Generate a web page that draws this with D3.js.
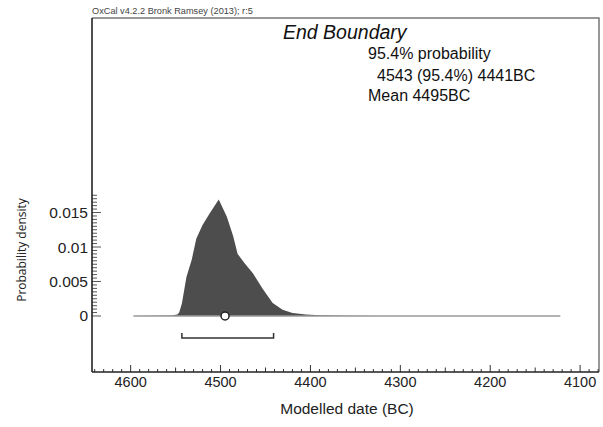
<!DOCTYPE html>
<html><head><meta charset="utf-8">
<script src="https://cdn.jsdelivr.net/npm/d3@7"></script>
<style>body{margin:0;background:#fff}svg{display:block}</style>
</head><body><svg id="c" width="603" height="427"></svg>
<script>
// ---- data ----
const years = [4597,4575,4555,4548,4546,4543,4538,4532,4527,4520,4512,4502,4493,4486,4481,4473,4464,4453,4442,4431,4420,4405,4390,4360,4320,4122];
const density = [0,0.00003,0.00008,0.0002,0.0005,0.0018,0.0056,0.0082,0.0112,0.0132,0.0149,0.0169,0.0144,0.0116,0.0090,0.0076,0.0062,0.0039,0.0019,0.0009,0.00045,0.0002,0.0001,0.00004,0.00001,0];
const range95 = [4543, 4441];
const meanYear = 4495;
const xTicks = [4600,4500,4400,4300,4200,4100];
const yTicks = [0,0.005,0.01,0.015];
const yTickLabels = ["0","0.005","0.01","0.015"];
const header = "OxCal v4.2.2 Bronk Ramsey (2013); r:5";
const title = "End Boundary";
const infoLines = ["95.4% probability","4543 (95.4%) 4441BC","Mean 4495BC"];
const xTitle = "Modelled date (BC)";
const yTitle = "Probability density";

// ---- drawing ----
const svg = d3.select("#c");
const x = d3.scaleLinear().domain([4643, 4079]).range([92, 599]);
const y = d3.scaleLinear().domain([-0.00812, 0.0432]).range([372, 18]);
const font = "'Liberation Sans', Arial, sans-serif";

// density area
const pts = years.map((yr,i)=>({yr, d:density[i]}));
svg.append("path").datum(pts)
  .attr("d", d3.area().x(p=>x(p.yr)).y0(y(0)).y1(p=>y(p.d)))
  .attr("fill","#4d4d4d");
// baseline
svg.append("line").attr("x1",x(years[0])).attr("x2",x(years[years.length-1]))
  .attr("y1",y(0)).attr("y2",y(0)).attr("stroke","#9a9a9a").attr("stroke-width",1.6);

// frame top/right
svg.append("path").attr("d",`M${x.range()[0]},${y.range()[1]}H${x.range()[1]}V${y.range()[0]}`)
  .attr("fill","none").attr("stroke","#777").attr("stroke-width",1.5);

// x axis with inward ticks
const xMinor = d3.range(4640, 4079, -10);
const gx = svg.append("g").attr("transform",`translate(0,${y.range()[0]})`);
gx.selectAll("line.mn").data(xMinor).join("line")
  .attr("x1",d=>x(d)).attr("x2",d=>x(d)).attr("y1",0)
  .attr("y2",d=> d%100===0 ? -7 : (d%50===0 ? -4.5 : -3))
  .attr("stroke","#333").attr("stroke-width",1);
gx.append("line").attr("x1",x.range()[0]).attr("x2",x.range()[1]).attr("stroke","#222").attr("stroke-width",1.6);
gx.selectAll("text").data(xTicks).join("text")
  .attr("x",d=>x(d)).attr("y",15).attr("text-anchor","middle")
  .attr("font-family",font).attr("font-size",14.5).attr("fill","#222").text(d=>d);

// y axis
const yMinor = d3.range(0, 0.01751, 0.0005);
const gy = svg.append("g").attr("transform",`translate(${x.range()[0]},0)`);
gy.selectAll("line.mn").data(yMinor).join("line")
  .attr("x1",0).attr("x2",(d,i)=> i%10===0 ? 9 : 5)
  .attr("y1",d=>y(d)).attr("y2",d=>y(d))
  .attr("stroke","#444").attr("stroke-width",0.9);
gy.append("line").attr("y1",y.range()[0]).attr("y2",y.range()[1]).attr("stroke","#222").attr("stroke-width",1.6);
gy.selectAll("text").data(yTicks).join("text")
  .attr("x",-4).attr("y",d=>y(d)+5.5).attr("text-anchor","end")
  .attr("font-family",font).attr("font-size",15.5).attr("fill","#222")
  .text((d,i)=>yTickLabels[i]);

// 95.4% range bracket
const by = y(0)+22;
svg.append("path")
  .attr("d",`M${x(range95[0])},${by-5}V${by}H${x(range95[1])}V${by-5}`)
  .attr("fill","none").attr("stroke","#333").attr("stroke-width",1.5);

// mean marker
svg.append("circle").attr("cx",x(meanYear)).attr("cy",y(0)).attr("r",4)
  .attr("fill","#fff").attr("stroke","#222").attr("stroke-width",1.5);

// texts
svg.append("text").attr("x",92).attr("y",14).attr("font-family",font)
  .attr("font-size",9.2).attr("fill","#444").text(header);
svg.append("text").attr("x",283).attr("y",39).attr("font-family",font)
  .attr("font-style","italic").attr("font-size",19.5).attr("fill","#111").text(title);
const infoX = [368, 377, 368], infoY = [59, 81, 101];
infoLines.forEach((t,i)=>svg.append("text").attr("x",infoX[i]).attr("y",infoY[i])
  .attr("font-family",font).attr("font-size",16).attr("fill","#111").text(t));
svg.append("text").attr("x",347).attr("y",414).attr("text-anchor","middle")
  .attr("font-family",font).attr("font-size",15.5).attr("fill","#222").text(xTitle);
svg.append("text").attr("transform","translate(26,250) rotate(-90)").attr("text-anchor","middle")
  .attr("font-family","'Open Sans', sans-serif").attr("font-size",12).attr("fill","#222").text(yTitle);
</script></body></html>
